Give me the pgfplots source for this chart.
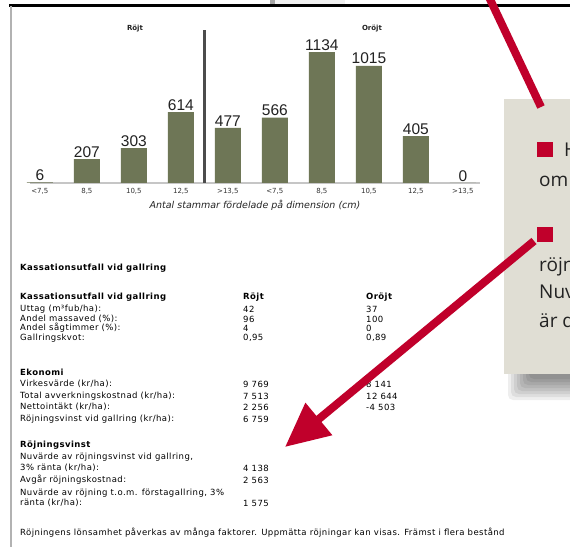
\documentclass[border=0pt]{standalone}
\usepackage{fontspec}
\setmainfont{DejaVu Sans}
\newfontfamily\tabfont[LetterSpace=5]{DejaVu Sans}
\newfontfamily\boxfont{Open Sans}
\newfontfamily\numfont{Liberation Sans}
\usepackage{pgfplots}
\pgfplotsset{compat=1.18}
\usetikzlibrary{arrows.meta}
\definecolor{barolive}{HTML}{6E7656}
\definecolor{kred}{HTML}{C0002B}
\definecolor{boxbg}{HTML}{E0DED4}
\definecolor{txt}{HTML}{222222}
\begin{document}
\begin{tikzpicture}[x=1pt,y=1pt,
  tb/.style={anchor=west, inner sep=0pt, font=\tabfont\fontsize{8.5}{9}\selectfont, text=black},
  th/.style={tb, font=\tabfont\bfseries\fontsize{8.5}{9}\selectfont}]
\path[use as bounding box] (0,0) rectangle (570,547);
\clip (0,0) rectangle (570,547);
\fill[white] (0,0) rectangle (570,547);
% page frame
\fill[gray!70] (270,541) rectangle (275,547);
\fill[gray!12] (275,542) rectangle (345,547);
\draw[black, line width=3pt] (9,541) -- (570,541);
\draw[gray!60, line width=1.5pt] (11,541) -- (11,0);

\begin{axis}[at={(30pt,364pt)}, anchor=south west, scale only axis,
  width=449.8pt, height=153.6pt,
  xmin=-0.21, xmax=9.36, ymin=0, ymax=1330,
  axis x line=bottom, axis y line=none,
  x axis line style={draw=gray!45, line width=1.5pt, -},
  xtick={0,...,9},
  xticklabels={<7{,}5,8{,}5,10{,}5,12{,}5,>13{,}5,<7{,}5,8{,}5,10{,}5,12{,}5,>13{,}5},
  major tick length=0pt,
  xticklabel style={font=\fontsize{7}{8}\selectfont, text=gray!40!black, yshift=-2pt},
  ybar, bar width=26pt, clip=false,
  nodes near coords={\pgfmathprintnumber[assume math mode=true,1000 sep={}]{\pgfplotspointmeta}},
  every node near coord/.append style={font=\numfont\fontsize{15.5}{16}\selectfont, text=txt, inner sep=1.5pt}]
\addplot[fill=barolive, draw=none] coordinates {(0,6) (1,207) (2,303) (3,614) (4,477) (5,566) (6,1134) (7,1015) (8,405) (9,0)};
\draw[gray!60!black, line width=2.5pt] (axis cs:3.5,0) -- (axis cs:3.5,1325);
\end{axis}

\node[font=\bfseries\fontsize{7}{8}\selectfont, text=txt] at (135,518) {Röjt};
\node[font=\bfseries\fontsize{7}{8}\selectfont, text=txt] at (372,518) {Oröjt};
\node[font=\itshape\fontsize{9.5}{10}\selectfont, text=gray!30!black] at (255,342) {Antal stammar fördelade på dimension (cm)};

% table
\node[th] at (20,279) {Kassationsutfall vid gallring};
\node[th] at (20,250) {Kassationsutfall vid gallring};
\node[th] at (243,250) {Röjt};
\node[th] at (366,250) {Oröjt};
\node[tb] at (20,238) {Uttag (m³fub/ha):}; \node[tb] at (243,238) {42}; \node[tb] at (366,238) {37};
\node[tb] at (20,228) {Andel massaved (\%):}; \node[tb] at (243,228) {96}; \node[tb] at (366,228) {100};
\node[tb] at (20,219) {Andel sågtimmer (\%):}; \node[tb] at (243,219) {4}; \node[tb] at (366,219) {0};
\node[tb] at (20,209) {Gallringskvot:}; \node[tb] at (243,209) {0,95}; \node[tb] at (366,209) {0,89};

\node[th] at (20,175) {Ekonomi};
\node[tb] at (20,163) {Virkesvärde (kr/ha):}; \node[tb] at (243,163) {9 769}; \node[tb] at (366,163) {8 141};
\node[tb] at (20,151) {Total avverkningskostnad (kr/ha):}; \node[tb] at (243,151) {7 513}; \node[tb] at (366,151) {12 644};
\node[tb] at (20,140) {Nettointäkt (kr/ha):}; \node[tb] at (243,140) {2 256}; \node[tb] at (366,140) {-4 503};
\node[tb] at (20,128) {Röjningsvinst vid gallring (kr/ha):}; \node[tb] at (243,128) {6 759};

\node[th] at (20,102) {Röjningsvinst};
\node[tb] at (20,90) {Nuvärde av röjningsvinst vid gallring,};
\node[tb] at (20,79) {3\% ränta (kr/ha):}; \node[tb] at (243,79) {4 138};
\node[tb] at (20,67) {Avgår röjningskostnad:}; \node[tb] at (243,67) {2 563};
\node[tb] at (20,54) {Nuvärde av röjning t.o.m. förstagallring, 3\%};
\node[tb] at (20,44) {ränta (kr/ha):}; \node[tb] at (243,44) {1 575};
\node[tb] at (20,14) {Röjningens lönsamhet påverkas av många faktorer. Uppmätta röjningar kan visas. Främst i flera bestånd};

% callout box with shadow
\foreach \k in {0,...,7}{
  \fill[black, opacity=0.065, rounded corners=5pt] (508+3*\k,185) rectangle (590,147+3*\k);
}
\fill[boxbg] (504,448) rectangle (570,173);
\fill[kred] (537,405) rectangle (553,390);
\fill[kred] (537,320) rectangle (553,305);
\begin{scope}[every node/.style={anchor=base west, inner sep=0pt, font=\boxfont\fontsize{19}{20}\selectfont, text=txt}]
\node at (564,390) {H};
\node at (539,360) {om};
\node at (539,276) {röjn};
\node at (539,249) {Nuv};
\node at (539,220) {är d};
\end{scope}

% red arrows
\draw[kred, line width=8pt] (488,552) -- (541,440);
\draw[kred, line width=8pt, -{Triangle[length=44pt, width=40pt]}] (534,306) -- (285,100);
\end{tikzpicture}
\end{document}
